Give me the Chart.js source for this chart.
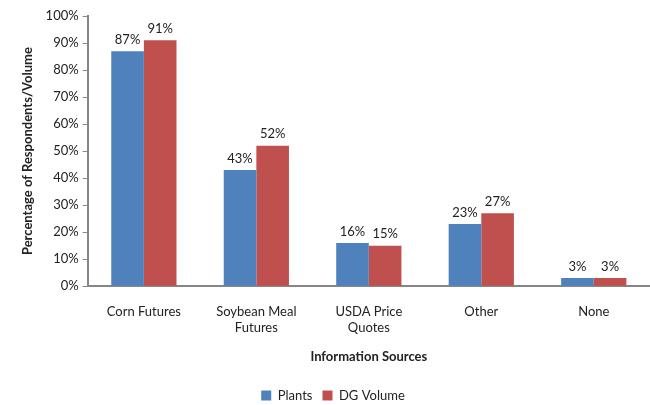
<!DOCTYPE html>
<html>
<head>
<meta charset="utf-8">
<script src="https://cdn.jsdelivr.net/npm/chart.js@4"></script>
<style>
  html, body { margin: 0; padding: 0; background: #fff; }
  #wrap { width: 650px; height: 405px; }
</style>
</head>
<body>
<div id="wrap"><canvas id="chart"></canvas></div>
<script>
// ---- data ----
const categories = [['Corn Futures'], ['Soybean Meal', 'Futures'], ['USDA Price', 'Quotes'], ['Other'], ['None']];
const plants   = [87, 43, 16, 23, 3];
const dgVolume = [91, 52, 15, 27, 3];
const yTicks   = [0, 10, 20, 30, 40, 50, 60, 70, 80, 90, 100];

const FONT = 'Lato, "Open Sans", sans-serif';
const AXIS_GRAY = '#868686';

// draw value labels above each bar
const barLabels = {
  id: 'barLabels',
  afterDatasetsDraw(chart) {
    const ctx = chart.ctx;
    ctx.save();
    ctx.font = '13px ' + FONT;
    ctx.fillStyle = '#222';
    ctx.textAlign = 'center';
    ctx.textBaseline = 'bottom';
    chart.data.datasets.forEach((ds, i) => {
      chart.getDatasetMeta(i).data.forEach((bar, j) => {
        ctx.fillText(ds.data[j] + '%', bar.x, bar.y - 5);
      });
    });
    ctx.restore();
  }
};

new Chart(document.getElementById('chart'), {
  type: 'bar',
  data: {
    labels: categories,
    datasets: [
      { label: 'Plants',    data: plants,   backgroundColor: '#4F81BD', borderWidth: 0 },
      { label: 'DG Volume', data: dgVolume, backgroundColor: '#C0504D', borderWidth: 0 }
    ]
  },
  options: {
    responsive: true, maintainAspectRatio: false,
    animation: false,
    layout: { padding: { top: 16, right: 0, left: 16, bottom: -7 } },
    datasets: { bar: { categoryPercentage: 0.58, barPercentage: 1.0 } },
    plugins: {
      tooltip: { enabled: false },
      legend: {
        position: 'bottom',
        labels: { boxWidth: 10, boxHeight: 10, padding: 10, color: '#222', font: { family: FONT, size: 13 } }
      }
    },
    scales: {
      x: {
        grid: { display: false },
        border: { color: AXIS_GRAY, width: 2 },
        ticks: { color: '#222', padding: 10, maxRotation: 0, font: { family: FONT, size: 13 } },
        title: { display: true, text: 'Information Sources', color: '#222', padding: { top: 4, bottom: 14 },
                 font: { family: FONT, size: 13, weight: 'bold' } }
      },
      y: {
        min: 0, max: 100,
        afterBuildTicks: (axis) => { axis.ticks = yTicks.map(v => ({ value: v })); },
        grid: { drawOnChartArea: false, drawTicks: true, tickLength: 5, color: AXIS_GRAY, lineWidth: 1 },
        border: { color: AXIS_GRAY, width: 2 },
        ticks: { color: '#222', padding: 4, callback: v => v + '%', font: { family: FONT, size: 13 } },
        title: { display: true, text: 'Percentage of Respondents/Volume', color: '#222', padding: { bottom: 6 },
                 font: { family: FONT, size: 13, weight: 'bold' } }
      }
    }
  },
  plugins: [barLabels]
});
</script>
</body>
</html>
